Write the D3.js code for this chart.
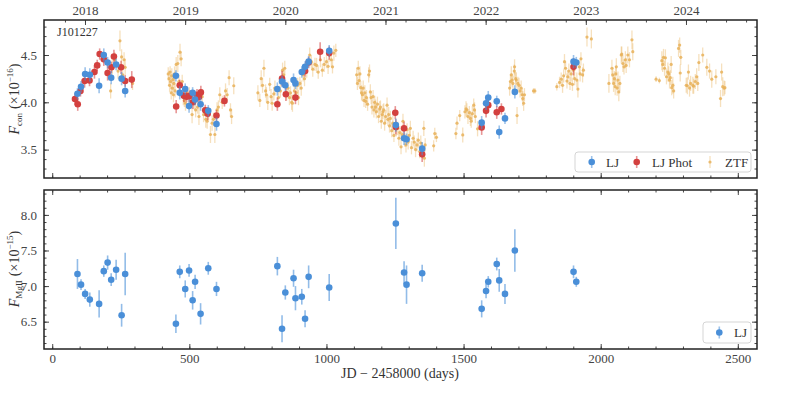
<!DOCTYPE html>
<meta charset="utf-8">
<style>
body { margin: 0; background: #fff; }
</style>
<svg width="793" height="397"></svg>
<script src="https://d3js.org/d3.v7.min.js"></script>
<script>

// LJ spectra: epochs (JD - 2458000), continuum flux (1e-16) and MgII flux (1e-15)
var ljDay = [92,105,120,137,171,188,202,215,233,253,266,
  451,465,485,499,512,521,541,569,599,
  821,838,850,880,887,910,922,935,1010,
  1253,1283,1292,1349,
  1566,1582,1590,1621,1630,1651,1687,
  1901,1911];
var ljCont = [4.09,4.165,4.30,4.29,4.175,4.50,4.42,4.26,4.40,4.25,4.12,
  4.28,4.10,4.14,3.96,4.10,4.03,3.98,3.91,3.77,
  4.14,4.22,4.18,4.235,4.20,4.32,4.375,4.43,4.545,
  3.76,3.62,3.61,3.51,
  3.785,3.99,4.05,4.01,3.685,3.83,4.11,
  4.43,4.42];
var ljContErr = [0.06,0.06,0.07,0.07,0.08,0.07,0.06,0.07,0.06,0.07,0.07,
  0.06,0.07,0.06,0.07,0.06,0.06,0.07,0.06,0.07,
  0.07,0.06,0.06,0.07,0.06,0.06,0.06,0.06,0.06,
  0.07,0.07,0.06,0.07,
  0.07,0.07,0.07,0.06,0.07,0.06,0.07,
  0.07,0.06];
var ljMg = [7.17,7.02,6.89,6.81,6.75,7.21,7.33,7.09,7.23,6.59,7.17,
  6.47,7.20,6.96,7.22,6.80,7.06,6.61,7.25,6.96,
  7.28,6.40,6.91,7.11,6.83,6.85,6.54,7.13,6.98,
  7.88,7.19,7.02,7.18,
  6.68,6.93,7.06,7.31,7.08,6.89,7.50,
  7.20,7.06];
var ljMgErr = [0.21,0.075,0.07,0.1,0.19,0.08,0.1,0.09,0.14,0.16,0.3,
  0.13,0.09,0.12,0.09,0.13,0.1,0.15,0.09,0.1,
  0.13,0.19,0.1,0.12,0.17,0.11,0.12,0.16,0.19,
  0.36,0.16,0.27,0.12,
  0.12,0.1,0.08,0.09,0.16,0.14,0.3,
  0.09,0.07];

// LJ photometry
var photDay = [83,93,103,118,136,154,164,173,188,202,216,225,251,266,290,
  452,465,480,490,500,513,528,535,542,558,567,599,628,
  821,838,852,887,922,935,977,1010,
  1251,1253,1283,1349,
  1566,1582,1590,1621,1638,
  1901];
var photFlux = [4.035,3.98,4.12,4.225,4.23,4.32,4.39,4.51,4.455,4.31,4.37,4.485,4.37,4.225,4.24,
  3.955,4.18,4.07,4.06,4.065,4.00,4.08,4.055,4.105,3.915,3.88,3.86,4.015,
  3.98,4.25,4.085,4.05,4.33,4.42,4.535,4.52,
  3.89,3.74,3.725,3.45,
  3.735,3.91,3.97,3.895,3.93,
  4.375];
var photErr = [0.06,0.07,0.06,0.07,0.06,0.07,0.06,0.06,0.07,0.08,0.06,0.07,0.07,0.06,0.09,
  0.07,0.06,0.07,0.06,0.06,0.07,0.06,0.06,0.07,0.06,0.07,0.06,0.06,
  0.07,0.08,0.07,0.07,0.06,0.06,0.1,0.07,
  0.07,0.08,0.07,0.08,
  0.08,0.07,0.07,0.07,0.06,
  0.09];

// ZTF: [day, flux, err]
var ztf = [
  [213,4.12,0.08],[219,4.38,0.09],[228,4.45,0.08],[240,4.33,0.08],[247,4.65,0.11],[253,4.48,0.08],
  [257,4.29,0.07],[262,4.45,0.08],[266,4.37,0.09],[293,4.20,0.07],
  [423,4.30,0.07],[426,4.25,0.08],[428,4.18,0.07],[430,4.32,0.06],[432,4.22,0.08],[434,4.10,0.07],
  [436,4.28,0.08],[438,4.15,0.06],[440,4.24,0.07],[442,4.08,0.08],[444,4.20,0.07],[446,4.30,0.08],
  [448,4.12,0.07],[452,4.40,0.08],[458,4.41,0.09],[462,4.22,0.07],[466,4.53,0.09],[470,4.46,0.08],
  [474,4.22,0.07],[478,4.05,0.08],[482,4.02,0.07],[486,3.99,0.08],[492,4.10,0.07],[500,4.08,0.08],
  [505,4.06,0.07],[510,3.87,0.09],[518,4.00,0.08],[523,3.92,0.08],[530,3.95,0.07],[535,3.85,0.09],
  [547,4.06,0.08],[552,3.87,0.08],[560,3.82,0.09],[565,3.80,0.08],[570,3.88,0.07],[577,3.66,0.09],
  [583,3.78,0.08],[588,3.82,0.07],[593,3.66,0.09],[601,3.92,0.08],[606,3.95,0.07],[611,4.08,0.08],
  [620,4.00,0.07],[632,4.12,0.08],[638,4.08,0.07],[645,4.26,0.08],[650,3.92,0.07],[654,3.85,0.08],
  [662,4.175,0.09],
  [750,4.10,0.08],[757,4.02,0.07],[762,4.25,0.09],[767,4.18,0.08],[772,4.36,0.09],[778,4.12,0.07],
  [781,4.08,0.08],[786,4.00,0.08],[793,4.19,0.07],[798,4.06,0.08],[802,3.99,0.08],[808,4.09,0.07],
  [812,4.15,0.08],[825,4.05,0.08],[832,4.12,0.07],[840,4.34,0.08],[844,4.29,0.07],[848,4.36,0.08],
  [855,4.10,0.08],[860,4.15,0.07],[865,4.05,0.08],[869,4.10,0.07],[873,4.00,0.08],[876,3.99,0.09],
  [883,4.12,0.08],[890,4.10,0.07],[895,4.18,0.08],[898,4.05,0.08],[903,4.20,0.07],[908,4.15,0.08],
  [915,4.29,0.07],[920,4.25,0.08],[928,4.33,0.07],[939,4.50,0.08],[945,4.43,0.07],[950,4.35,0.08],
  [958,4.40,0.07],[964,4.39,0.08],[970,4.32,0.07],[978,4.45,0.08],[985,4.34,0.07],[992,4.40,0.08],
  [1000,4.43,0.07],[1006,4.38,0.08],[1012,4.50,0.07],[1018,4.45,0.08],[1022,4.375,0.07],[1027,4.52,0.08],
  [1034,4.55,0.07],
  [1110,4.29,0.08],[1113,4.20,0.07],[1116,4.36,0.08],[1119,4.23,0.07],[1122,4.30,0.08],[1125,4.155,0.07],
  [1128,4.10,0.08],[1131,4.08,0.07],[1134,4.15,0.08],[1137,4.02,0.07],[1140,4.10,0.08],[1143,4.01,0.07],
  [1146,4.05,0.08],[1150,3.98,0.07],[1154,4.29,0.08],[1157,4.33,0.07],[1160,4.11,0.08],[1163,4.05,0.07],
  [1166,3.95,0.08],[1170,4.06,0.07],[1173,3.92,0.08],[1176,4.00,0.07],[1179,3.95,0.08],[1182,3.90,0.07],
  [1186,3.98,0.08],[1190,3.85,0.07],[1194,3.93,0.08],[1197,3.95,0.07],[1200,3.80,0.08],[1203,3.87,0.07],
  [1206,3.90,0.08],[1209,3.92,0.07],[1212,3.78,0.08],[1216,3.85,0.07],[1221,3.97,0.08],[1224,3.82,0.07],
  [1227,3.87,0.08],[1230,3.75,0.07],[1233,3.83,0.08],[1238,3.70,0.07],[1242,3.78,0.08],[1246,3.65,0.07],
  [1255,3.72,0.08],[1260,3.725,0.07],[1264,3.62,0.08],[1268,3.68,0.07],[1272,3.53,0.08],[1276,3.66,0.07],
  [1279,3.80,0.08],[1286,3.60,0.07],[1290,3.55,0.08],[1294,3.71,0.07],[1298,3.58,0.08],[1302,3.65,0.07],
  [1306,3.725,0.08],[1310,3.52,0.07],[1316,3.62,0.08],[1320,3.58,0.07],[1325,3.50,0.08],[1330,3.55,0.07],
  [1335,3.60,0.08],[1340,3.48,0.07],[1344,3.57,0.08],[1348,3.50,0.07],[1355,3.725,0.08],[1357,3.41,0.09],
  [1360,3.55,0.07],[1391,3.54,0.06],[1395,3.67,0.06],[1401,3.63,0.05],
  [1472,3.67,0.06],[1476,3.78,0.07],[1486,3.86,0.06],[1497,3.655,0.08],[1505,3.90,0.07],[1509,3.93,0.08],
  [1512,3.92,0.07],[1516,3.85,0.08],[1521,3.89,0.07],[1525,3.83,0.08],[1528,3.80,0.07],[1532,3.88,0.08],
  [1537,3.97,0.07],[1540,3.92,0.08],[1543,3.85,0.07],[1551,3.72,0.08],
  [1668,4.15,0.08],[1671,4.22,0.07],[1674,4.29,0.09],[1677,4.235,0.07],[1680,4.20,0.08],[1685,4.33,0.07],
  [1686,4.375,0.08],[1690,4.25,0.07],[1692,4.235,0.08],[1695,3.86,0.09],[1698,4.20,0.07],[1702,4.18,0.08],
  [1706,4.12,0.07],[1710,4.15,0.08],[1714,4.08,0.07],[1716,4.04,0.08],[1719,3.99,0.08],[1722,4.08,0.07],
  [1755,4.12,0.03],[1760,4.12,0.03],
  [1840,4.165,0.04],[1850,4.21,0.06],[1856,4.245,0.07],[1861,4.18,0.08],[1865,4.28,0.07],[1868,4.43,0.08],
  [1872,4.36,0.07],[1877,4.225,0.08],[1880,4.27,0.07],[1884,4.33,0.08],[1888,4.20,0.07],[1892,4.30,0.08],
  [1897,4.19,0.07],[1901,4.34,0.08],[1905,4.25,0.07],[1913,4.235,0.08],[1917,4.14,0.09],[1922,4.375,0.07],
  [1925,4.30,0.08],[1928,4.46,0.07],[1934,4.29,0.08],[1937,4.34,0.07],[1950,4.69,0.1],[1966,4.67,0.1],
  [2030,4.20,0.1],[2041,4.36,0.09],[2044,4.29,0.08],[2047,4.20,0.09],[2050,4.25,0.08],[2053,4.165,0.09],
  [2055,4.30,0.08],[2057,4.375,0.09],[2060,4.15,0.08],[2063,4.235,0.09],[2066,4.11,0.1],[2070,4.20,0.08],
  [2075,4.50,0.09],[2077,4.51,0.08],[2081,4.41,0.09],[2085,4.375,0.08],[2090,4.45,0.09],[2093,4.39,0.08],
  [2099,4.50,0.09],[2105,4.45,0.08],[2114,4.66,0.1],[2117,4.535,0.09],
  [2202,4.245,0.03],[2214,4.23,0.03],[2223,4.44,0.1],[2226,4.40,0.08],[2229,4.475,0.09],[2233,4.36,0.08],
  [2236,4.47,0.09],[2240,4.27,0.08],[2245,4.32,0.1],[2248,4.30,0.08],[2251,4.235,0.09],[2254,4.26,0.08],
  [2257,4.40,0.09],[2259,4.155,0.08],[2263,4.18,0.09],[2266,4.12,0.08],[2284,4.57,0.09],[2288,4.605,0.08],
  [2290,4.31,0.09],[2292,4.475,0.08],[2312,4.18,0.08],[2316,4.175,0.09],[2320,4.32,0.08],[2324,4.15,0.09],
  [2328,4.20,0.08],[2336,4.18,0.09],[2339,4.17,0.08],[2345,4.22,0.08],[2350,4.27,0.09],[2354,4.20,0.08],
  [2358,4.42,0.09],[2372,4.50,0.08],[2387,4.37,0.09],[2397,4.33,0.08],[2405,4.245,0.09],[2420,4.27,0.08],
  [2437,4.04,0.09],[2441,4.32,0.09],[2445,4.165,0.1],[2450,4.15,0.08],[2453,4.155,0.07]
];

var yearTicks = [2018, 2019, 2020, 2021, 2022, 2023, 2024];
var contTicks = [3.5, 4.0, 4.5];
var mgTicks = [6.5, 7.0, 7.5, 8.0];
var dayTicks = [0, 500, 1000, 1500, 2000, 2500];

var blue = "#4a8fd8", red = "#d3403f", orange = "#e8b25a";
var font = "'Liberation Serif', 'DejaVu Serif', serif";
var ink = "#333";

var svg = d3.select("svg"),
    left = 44, right = 757;

var x = d3.scaleLinear().domain([-30, 2570]).range([left, right]);
var yTop = d3.scaleLinear().domain([3.2, 4.87]).range([178, 20]);
var yBot = d3.scaleLinear().domain([6.116, 8.35]).range([349, 190]);

// JD-2458000 of a (decimal) calendar year
function yearDay(yr) { return 119.5 + (yr - 2018) * 365.25; }

function styleAxis(g) {
  g.attr("font-family", font).attr("font-size", 13);
  g.select(".domain").remove();
  g.selectAll("line").attr("stroke", ink).attr("stroke-width", 0.9);
  g.selectAll("text").attr("fill", "#444");
}

function drawAxes(y, top, bottom, majors, minorFrom, minorTo, xLabels) {
  var minors = d3.range(minorFrom, minorTo + 1e-6, 0.1);
  var dayMinor = d3.range(0, 2570, 100);

  svg.append("g").attr("transform", "translate(" + left + ",0)")
    .call(d3.axisLeft(y).tickValues(majors).tickSize(-5).tickPadding(7).tickFormat(d3.format(".1f"))).call(styleAxis);
  svg.append("g").attr("transform", "translate(" + left + ",0)")
    .call(d3.axisLeft(y).tickValues(minors).tickSize(-2.5).tickFormat("")).call(styleAxis);
  svg.append("g").attr("transform", "translate(" + right + ",0)")
    .call(d3.axisRight(y).tickValues(majors).tickSize(-5).tickFormat("")).call(styleAxis);
  svg.append("g").attr("transform", "translate(" + right + ",0)")
    .call(d3.axisRight(y).tickValues(minors).tickSize(-2.5).tickFormat("")).call(styleAxis);

  svg.append("g").attr("transform", "translate(0," + bottom + ")")
    .call(d3.axisBottom(x).tickValues(dayTicks).tickSize(-5).tickPadding(5)
      .tickFormat(xLabels ? d3.format("d") : "")).call(styleAxis);
  svg.append("g").attr("transform", "translate(0," + bottom + ")")
    .call(d3.axisBottom(x).tickValues(dayMinor).tickSize(-2.5).tickFormat("")).call(styleAxis);

  svg.append("rect")
    .attr("x", left).attr("y", top)
    .attr("width", right - left).attr("height", bottom - top)
    .attr("fill", "none").attr("stroke", "#222").attr("stroke-width", 1.5);
}

drawAxes(yTop, 20, 178, contTicks, 3.3, 4.8, false);
drawAxes(yBot, 190, 349, mgTicks, 6.2, 8.3, true);

// top edge of the top panel: calendar years
var yearMinor = d3.range(2017.8, 2025, 0.2).map(yearDay).filter(function(d) { return d > -30 && d < 2570; });
svg.append("g").attr("transform", "translate(0,20)")
  .call(d3.axisTop(x).tickValues(yearTicks.map(yearDay)).tickSize(-5).tickPadding(5)
    .tickFormat(function(d, i) { return yearTicks[i]; })).call(styleAxis);
svg.append("g").attr("transform", "translate(0,20)")
  .call(d3.axisTop(x).tickValues(yearMinor).tickSize(-2.5).tickFormat("")).call(styleAxis);

// top edge of the bottom panel: days
svg.append("g").attr("transform", "translate(0,190)")
  .call(d3.axisTop(x).tickValues(dayTicks).tickSize(-5).tickFormat("")).call(styleAxis);
svg.append("g").attr("transform", "translate(0,190)")
  .call(d3.axisTop(x).tickValues(d3.range(0, 2570, 100)).tickSize(-2.5).tickFormat("")).call(styleAxis);

// error-bar series
function series(rows, y, color, r, barOpacity, dotOpacity, bw) {
  var g = svg.append("g");
  g.selectAll("line").data(rows).join("line")
    .attr("x1", function(d) { return x(d[0]); })
    .attr("x2", function(d) { return x(d[0]); })
    .attr("y1", function(d) { return y(d[1] - d[2]); })
    .attr("y2", function(d) { return y(d[1] + d[2]); })
    .attr("stroke", color).attr("stroke-width", bw).attr("stroke-opacity", barOpacity);
  g.selectAll("circle").data(rows).join("circle")
    .attr("cx", function(d) { return x(d[0]); })
    .attr("cy", function(d) { return y(d[1]); })
    .attr("r", r).attr("fill", color).attr("fill-opacity", dotOpacity);
}

var ljTop = ljDay.map(function(d, i) { return [d, ljCont[i], ljContErr[i]]; });
var ljBot = ljDay.map(function(d, i) { return [d, ljMg[i], ljMgErr[i]]; });
var phot = photDay.map(function(d, i) { return [d, photFlux[i], photErr[i]]; });

series(ztf, yTop, orange, 1.6, 0.4, 0.85, 1.3);
series(phot, yTop, red, 3.3, 0.55, 1, 1.6);
series(ljTop, yTop, blue, 3.3, 0.55, 1, 1.6);
series(ljBot, yBot, blue, 3.3, 0.6, 1, 1.6);

// object name
svg.append("text").attr("x", 57).attr("y", 36)
  .attr("font-family", font).attr("font-size", 12).attr("fill", ink)
  .text("J101227");

// y labels
function yLabel(cx, cy, sub, exp) {
  var t = svg.append("text")
    .attr("transform", "translate(" + cx + "," + cy + ") rotate(-90)")
    .attr("text-anchor", "middle")
    .attr("font-family", font).attr("font-size", 14).attr("fill", ink);
  t.append("tspan").attr("font-style", "italic").text("F");
  t.append("tspan").attr("font-size", 9).attr("dy", 3).text(sub);
  t.append("tspan").attr("dy", -3).attr("dx", 4).text("(\u00d710");
  t.append("tspan").attr("font-size", 9).attr("dy", -6).text("\u2212" + exp);
  t.append("tspan").attr("dy", 6).text(")");
}
yLabel(19, 99, "con", 16);
yLabel(19, 269, "MgII", 15);

// x label
svg.append("text").attr("x", 400).attr("y", 378)
  .attr("text-anchor", "middle")
  .attr("font-family", font).attr("font-size", 14).attr("fill", ink)
  .text("JD \u2212 2458000 (days)");

// legends
function legend(x0, y0, w, h, items) {
  var g = svg.append("g").attr("transform", "translate(" + x0 + "," + y0 + ")");
  g.append("rect").attr("width", w).attr("height", h).attr("rx", 3)
    .attr("fill", "#fff").attr("fill-opacity", 0.8)
    .attr("stroke", "#d5d5d5").attr("stroke-width", 1);
  items.forEach(function(it) {
    var cy = h / 2;
    g.append("line").attr("x1", it.mx).attr("x2", it.mx)
      .attr("y1", cy - 6).attr("y2", cy + 6)
      .attr("stroke", it.color).attr("stroke-width", it.r > 2 ? 1.6 : 1.3)
      .attr("stroke-opacity", it.r > 2 ? 0.55 : 0.4);
    g.append("circle").attr("cx", it.mx).attr("cy", cy).attr("r", it.r)
      .attr("fill", it.color).attr("fill-opacity", it.r > 2 ? 1 : 0.85);
    g.append("text").attr("x", it.tx).attr("y", cy + 4.5)
      .attr("font-family", font).attr("font-size", 13).attr("fill", ink)
      .text(it.label);
  });
}

legend(575, 152, 176, 20, [
  {mx: 16.7, tx: 31, color: blue, r: 3.3, label: "LJ"},
  {mx: 61.7, tx: 77, color: red, r: 3.3, label: "LJ Phot"},
  {mx: 135, tx: 150, color: orange, r: 1.6, label: "ZTF"}
]);
legend(703, 322, 48, 21, [
  {mx: 16.3, tx: 31, color: blue, r: 3.3, label: "LJ"}
]);

</script>
